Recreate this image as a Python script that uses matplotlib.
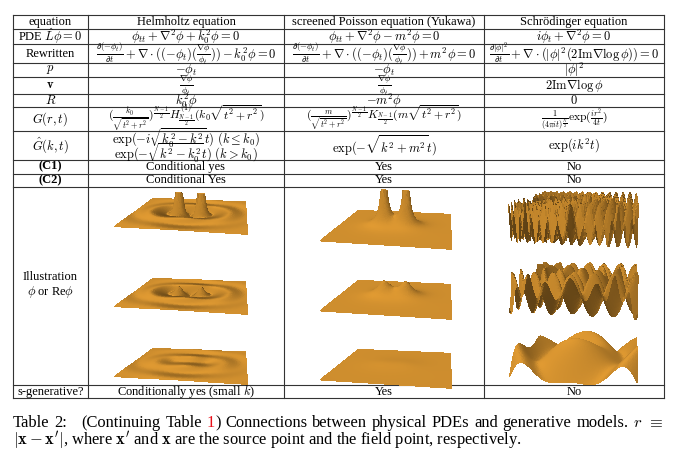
import matplotlib
matplotlib.use('Agg')
import matplotlib.pyplot as plt
import numpy as np
from matplotlib.colors import LightSource

plt.rcParams['font.family'] = ['Liberation Serif', 'DejaVu Serif']
plt.rcParams['mathtext.fontset'] = 'cm'

W, H = 680, 463

# table grid (pixel positions)
col_x = [13, 88, 284, 484, 664]
row_y = [15.3, 29, 44.3, 63.3, 76.7, 94.3, 107, 130.7, 160, 173.5, 186.7, 385, 398.3]

header = ["equation", "Helmholtz equation", "screened Poisson equation (Yukawa)",
          "Schrödinger equation"]
row_labels = [r"PDE $\hat{L}\phi=0$", "Rewritten", r"$p$", r"$\mathbf{v}$", r"$R$",
              r"$G(r,t)$", r"$\hat{G}(k,t)$", "(C1)", "(C2)",
              "Illustration\n" + r"$\phi$ or Re$\phi$", "s-generative?"]
helmholtz = [
    r"$\phi_{tt}+\nabla^2\phi+k_0^2\phi=0$",
    r"$\frac{\partial(-\phi_t)}{\partial t}+\nabla\cdot((-\phi_t)(\frac{\nabla\phi}{\phi_t}))-k_0^2\phi=0$",
    r"$-\phi_t$",
    r"$\frac{\nabla\phi}{\phi_t}$",
    r"$k_0^2\phi$",
    r"$(\frac{k_0}{\sqrt{t^2+r^2}})^{\frac{N-1}{2}}H^{(1)}_{\frac{N-1}{2}}(k_0\sqrt{t^2+r^2})$",
    [r"$\exp(-i\sqrt{k_0^2-k^2}t)\ (k\leq k_0)$", r"$\exp(-\sqrt{k^2-k_0^2}t)\ (k>k_0)$"],
    "Conditional yes",
    "Conditional Yes",
    None,
    r"Conditionally yes (small $k$)",
]
yukawa = [
    r"$\phi_{tt}+\nabla^2\phi-m^2\phi=0$",
    r"$\frac{\partial(-\phi_t)}{\partial t}+\nabla\cdot((-\phi_t)(\frac{\nabla\phi}{\phi_t}))+m^2\phi=0$",
    r"$-\phi_t$",
    r"$\frac{\nabla\phi}{\phi_t}$",
    r"$-m^2\phi$",
    r"$(\frac{m}{\sqrt{t^2+r^2}})^{\frac{N-1}{2}}K_{\frac{N-1}{2}}(m\sqrt{t^2+r^2})$",
    r"$\exp(-\sqrt{k^2+m^2}t)$",
    "Yes",
    "Yes",
    None,
    "Yes",
]
schrodinger = [
    r"$i\phi_t+\nabla^2\phi=0$",
    r"$\frac{\partial|\phi|^2}{\partial t}+\nabla\cdot(|\phi|^2(2\mathrm{Im}\nabla\log\phi))=0$",
    r"$|\phi|^2$",
    r"$2\mathrm{Im}\nabla\log\phi$",
    r"$0$",
    r"$\frac{1}{(4\pi it)^{\frac{N}{2}}}\exp(\frac{ir^2}{4t})$",
    r"$\exp(ik^2t)$",
    "No",
    "No",
    None,
    "No",
]
bold_rows = [7, 8]
small_rows = [5]

# illustration parameters: two point sources, three times each
source_x = [-0.6, 0.6]
k0 = 4.0
m = 1.5
times = {
    "helmholtz": [0.05, 0.3, 1.0],
    "yukawa": [0.05, 0.35, 1.2],
    "schrodinger": [0.022, 0.05, 0.2],
}
# z range and top cut of each column
z_range = {"helmholtz": (-5, 25), "yukawa": (0, 5)}
z_cap = {"helmholtz": 15.0, "yukawa": 4.4}
# centres (x, y) in pixels of each illustration
illus_centres = {
    "helmholtz": [(188, 202), (188, 282), (188, 352)],
    "yukawa": [(393, 208), (393, 278), (393, 347)],
    "schrodinger": [(580, 216), (580, 287), (580, 354)],
}

caption_line1 = [[("Table", "k")], [("2:", "k")], [("(Continuing", "k")], [("Table", "k")],
                 [("1", "#e8101a"), (")", "k")], [("Connections", "k")], [("between", "k")],
                 [("physical", "k")], [("PDEs", "k")], [("and", "k")], [("generative", "k")],
                 [("models.", "k")], [("$r$", "k")], [(r"$\equiv$", "k")]]
caption_line2 = r"$|\mathbf{x}-\mathbf{x}'|$, where $\mathbf{x}'$ and $\mathbf{x}$ are the source point and the field point, respectively."


def field(kind, t, X, Y):
    Z = np.zeros_like(X)
    for sx in source_x:
        r2 = (X - sx) ** 2 + Y ** 2
        rho = np.sqrt(r2 + t ** 2)
        if kind == "helmholtz":
            Z += np.cos(k0 * rho) / rho ** 2
        elif kind == "yukawa":
            Z += np.exp(-m * rho) / rho
        else:
            Z += np.sin(r2 / (4 * t)) / (4 * np.pi * t)
    return Z


fig = plt.figure(figsize=(W / 100, H / 100), dpi=100)
ax = fig.add_axes([0, 0, 1, 1])
ax.set_xlim(0, W)
ax.set_ylim(H, 0)
ax.axis('off')

lc = '#333333'
for x in col_x:
    ax.plot([x, x], [row_y[0], row_y[-1]], color=lc, lw=0.8)
for y in row_y:
    ax.plot([col_x[0], col_x[-1]], [y, y], color=lc, lw=0.8)

fs = 9.0
centers = [(col_x[i] + col_x[i + 1]) / 2 for i in range(4)]
for i, h in enumerate(header):
    ax.text(centers[i], (row_y[0] + row_y[1]) / 2, h, ha='center', va='center', fontsize=fs)
for r in range(len(row_labels)):
    yc = (row_y[r + 1] + row_y[r + 2]) / 2
    cells = [row_labels[r], helmholtz[r], yukawa[r], schrodinger[r]]
    for c, s in enumerate(cells):
        if s is None:
            continue
        fw = 'bold' if (r in bold_rows and c == 0) else 'normal'
        size = fs - 0.6 if (r in small_rows and c > 0) else fs
        if isinstance(s, list):
            ax.text(centers[c], yc - 7.8, s[0], ha='center', va='center', fontsize=size)
            ax.text(centers[c], yc + 7.8, s[1], ha='center', va='center', fontsize=size)
        else:
            ax.text(centers[c], yc, s, ha='center', va='center', fontsize=size,
                    fontweight=fw, linespacing=1.1)

# illustrations
ls = LightSource(azdeg=210, altdeg=50)
S = 150
for kind in ["helmholtz", "yukawa", "schrodinger"]:
    n = 170 if kind == "schrodinger" else 120
    g = np.linspace(-3, 3, n) if kind != "schrodinger" else np.linspace(-1.6, 1.6, n)
    X, Y = np.meshgrid(g, g)
    for j, t in enumerate(times[kind]):
        Z = field(kind, t, X, Y)
        if kind in z_range:
            zlo, zhi = z_range[kind]
            Z = np.clip(Z, zlo, z_cap[kind])
        else:
            zlo, zhi = Z.min(), Z.max()
        cx, cy = illus_centres[kind][j]
        a3 = fig.add_axes([(cx - S / 2) / W, 1 - (cy + S / 2) / H, S / W, S / H],
                          projection='3d')
        a3.set_proj_type('persp', focal_length=0.35)
        if kind == "schrodinger":
            a3.view_init(elev=10, azim=-80)
            aspect, zm = (1, 1, 0.28), 1.15
        elif kind == "helmholtz":
            a3.view_init(elev=13, azim=-80)
            aspect, zm = (1, 1, 0.3), 1.2
        else:
            a3.view_init(elev=13, azim=-80)
            aspect, zm = (1, 1, 0.32), 1.2
        a3.plot_surface(X, Y, Z, color='#e09a32', shade=True, lightsource=ls,
                        linewidth=0, antialiased=False, rstride=1, cstride=1)
        a3.set_zlim(zlo, zhi)
        a3.set_box_aspect(aspect, zoom=zm)
        a3.set_axis_off()
        a3.patch.set_alpha(0)

# caption, line 1 justified
renderer = fig.canvas.get_renderer()
cfs = 11.9
y1c, y2c = 423, 441
arts = []
total = 0
for word in caption_line1:
    pieces = []
    for s, col in word:
        t = ax.text(0, y1c, s, fontsize=cfs, color=col, va='center', ha='left')
        w = t.get_window_extent(renderer).width
        pieces.append((t, w))
        total += w
    arts.append(pieces)
gaps = len(caption_line1) - 1 + 2
gap = (col_x[-1] - col_x[0] - total) / gaps
x = col_x[0]
for k, pieces in enumerate(arts):
    for t, w in pieces:
        t.set_x(x)
        x += w
    x += gap * (3 if k == 1 else 1)
ax.text(col_x[0], y2c, caption_line2, fontsize=cfs, va='center', ha='left')

fig.savefig('out.png', dpi=100)
